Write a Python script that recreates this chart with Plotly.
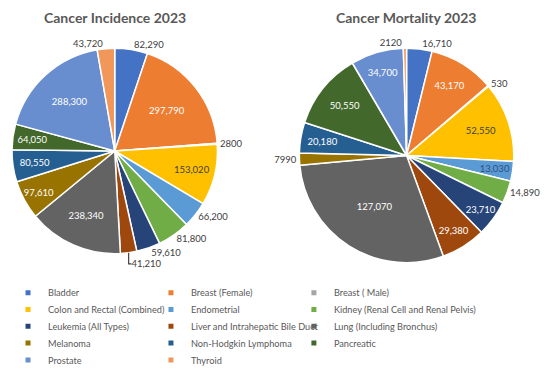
import plotly.graph_objects as go

categories = [
    "Bladder", "Breast (Female)", "Breast ( Male)", "Colon and Rectal (Combined)",
    "Endometrial", "Kidney (Renal Cell and Renal Pelvis)", "Leukemia (All Types)",
    "Liver and Intrahepatic Bile Duct", "Lung (Including Bronchus)", "Melanoma",
    "Non-Hodgkin Lymphoma", "Pancreatic", "Prostate", "Thyroid",
]
incidence = [82290, 297790, 2800, 153020, 66200, 81800, 59610, 41210,
             238340, 97610, 80550, 64050, 288300, 43720]
mortality = [16710, 43170, 530, 52550, 13030, 14890, 23710, 29380,
             127070, 7990, 20180, 50550, 34700, 2120]
colors = ["#4472C4", "#ED7D31", "#A5A5A5", "#FFC000", "#5B9BD5", "#70AD47",
          "#264478", "#9E480E", "#636363", "#997300", "#255E91", "#43682B",
          "#698ED0", "#F1975A"]
# label placement per slice: outside, inside, or "deep" (inside, pulled toward the centre)
inc_pos = ["outside", "inside", "outside", "inside", "outside", "outside", "outside",
           "outside", "inside", "inside", "deep", "deep", "inside", "outside"]
mort_pos = ["outside", "inside", "outside", "inside", "deep", "outside", "inside",
            "inside", "inside", "outside", "deep", "inside", "inside", "outside"]

FONT = "Lato, 'Open Sans', sans-serif"
OFF = 8                       # the page body has an 8px margin
W, H = 550 - OFF, 376 - OFF
LEGEND_ROWS_Y = [292.7, 309.5, 326.3, 343.1, 360.0]
LEGEND_COLS_X = [48, 192, 336]
DEEP_K = 0.91


def px(x):
    return (x - OFF) / W


def py(y):
    return 1 - (y - OFF) / H


def fmt(v):
    return f"{v:,}" if v >= 10000 else str(v)


def inside_colors():
    out = []
    for c in colors:
        if c == "#FFC000":
            out.append("#404040")
        elif c == "#5B9BD5":
            out.append("#2F4F7F")
        else:
            out.append("#FFFFFF")
    return out


def dom(cx, cy, r):
    return dict(x=[max(0, px(cx - r)), min(1, px(cx + r))],
                y=[max(0, py(cy + r)), min(1, py(cy - r))])


fig = go.Figure()

pies = [
    (incidence, inc_pos, (111.5, 151, 103.5)),
    (mortality, mort_pos, (405.5, 155.5, 108)),
]
for vals, pos, (cx, cy, r) in pies:
    main_pos = ["inside" if p == "deep" else p for p in pos]
    main_text = [fmt(v) if p != "deep" else "" for v, p in zip(vals, pos)]
    fig.add_trace(go.Pie(
        labels=categories,
        values=vals,
        text=main_text,
        textinfo="text",
        textposition=main_pos,
        insidetextorientation="horizontal",
        insidetextfont=dict(family=FONT, size=9.5, color=inside_colors()),
        outsidetextfont=dict(family=FONT, size=9.5, color="#404040"),
        marker=dict(colors=colors, line=dict(color="white", width=1.5)),
        sort=False,
        direction="clockwise",
        rotation=0,
        domain=dom(cx, cy, r),
        showlegend=False,
        hoverinfo="label+value",
    ))
    # transparent twin pie that carries the labels of narrow slices a bit further in
    fig.add_trace(go.Pie(
        labels=categories,
        values=vals,
        text=[fmt(v) if p == "deep" else "" for v, p in zip(vals, pos)],
        textinfo="text",
        textposition=["inside" if p == "deep" else "none" for p in pos],
        insidetextorientation="horizontal",
        insidetextfont=dict(family=FONT, size=9.5, color=inside_colors()),
        marker=dict(colors=["rgba(0,0,0,0)"] * len(vals), line=dict(width=0)),
        sort=False,
        direction="clockwise",
        rotation=0,
        domain=dom(cx, cy, r * DEEP_K),
        showlegend=False,
        hoverinfo="skip",
    ))

# one legend box per entry, laid out on a 3-column grid
layout_legends = {}
for i, (name, c) in enumerate(zip(categories, colors)):
    ln = "legend" if i == 0 else f"legend{i + 1}"
    fig.add_trace(go.Scatter(
        x=[None], y=[None], mode="markers", name=name,
        marker=dict(symbol="square", size=5, color=c),
        showlegend=True, legend=ln, hoverinfo="skip",
    ))
    layout_legends[ln] = dict(
        orientation="h", x=px(LEGEND_COLS_X[i % 3] - 44), xanchor="left",
        y=py(LEGEND_ROWS_Y[i // 3]), yanchor="middle",
        font=dict(family=FONT, size=9.2, color="#595959"),
        bgcolor="rgba(0,0,0,0)",
    )

fig.update_layout(
    width=W, height=H,
    margin=dict(l=0, r=0, t=0, b=0),
    paper_bgcolor="white", plot_bgcolor="white",
    font=dict(family=FONT, size=10, color="#595959"),
    xaxis=dict(visible=False), yaxis=dict(visible=False),
    uniformtext=dict(minsize=9.5, mode="show"),
    annotations=[
        dict(text="<b>Cancer Incidence 2023</b>", x=px(112), y=py(17),
             xanchor="center", yanchor="middle",
             xref="paper", yref="paper", showarrow=False,
             font=dict(family=FONT, size=14, color="#595959")),
        dict(text="<b>Cancer Mortality 2023</b>", x=px(405), y=py(17),
             xanchor="center", yanchor="middle",
             xref="paper", yref="paper", showarrow=False,
             font=dict(family=FONT, size=14, color="#595959")),
    ],
    **layout_legends,
)

fig.write_html("out.html")
